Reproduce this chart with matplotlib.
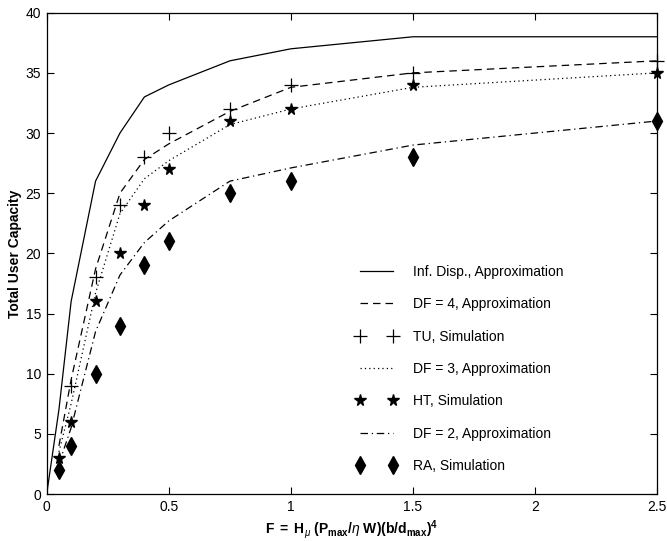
import matplotlib
matplotlib.use("Agg")
import matplotlib.pyplot as plt
import numpy as np

plt.rcParams["font.family"] = ["Liberation Sans", "DejaVu Sans"]
plt.rcParams["mathtext.fontset"] = "custom"
plt.rcParams["mathtext.rm"] = "Liberation Sans"
plt.rcParams["mathtext.it"] = "Liberation Sans:italic"
plt.rcParams["mathtext.bf"] = "Liberation Sans:bold"

# Load factor values
f_approx = [0.0, 0.05, 0.1, 0.2, 0.3, 0.4, 0.5, 0.75, 1.0, 1.5, 2.5]
f_sim = [0.05, 0.1, 0.2, 0.3, 0.4, 0.5, 0.75, 1.0, 1.5, 2.5]
f_tu = [0.1, 0.2, 0.3, 0.4, 0.5, 0.75, 1.0, 1.5, 2.5]

# Approximations
inf_disp = [0, 7, 16, 26, 30, 33, 34, 36, 37, 38, 38]
df4 = [np.nan, 4.0, 9.5, 18.7, 25.0, 27.8, 29.1, 31.8, 33.8, 35.0, 36.0]
df3 = [np.nan, 3.5, 7.5, 16.7, 23.3, 26.2, 27.7, 30.7, 32.0, 33.8, 35.0]
df2 = [np.nan, 2.5, 5.5, 13.5, 18.2, 20.9, 22.7, 26.0, 27.1, 29.0, 31.0]

# Simulations
tu_sim = [9, 18, 24, 28, 30, 32, 34, 35, 36]
ht_sim = [3, 6, 16, 20, 24, 27, 31, 32, 34, 35]
ra_sim = [2, 4, 10, 14, 19, 21, 25, 26, 28, 31]

x_ticks = [0, 0.5, 1, 1.5, 2, 2.5]
x_tick_labels = ["0", "0.5", "1", "1.5", "2", "2.5"]
y_ticks = [0, 5, 10, 15, 20, 25, 30, 35, 40]

W, H = 667, 541
fig = plt.figure(figsize=(W / 100, H / 100), dpi=100)
ax = fig.add_axes([46.7 / W, 1 - 494 / H, 610.6 / W, 481.3 / H])

lw = 0.9
fs = 10
ax.plot(f_approx, inf_disp, color="black", lw=lw, ls="-",
        label="Inf. Disp., Approximation")
ax.plot(f_approx, df4, color="black", lw=lw, ls=(0, (6, 4)),
        label="DF = 4, Approximation")
ax.plot(f_tu, tu_sim, ls="none", marker="+", ms=10, mew=0.9, color="black",
        clip_on=False, label="TU, Simulation")
ax.plot(f_approx, df3, color="black", lw=lw, ls=(0, (1, 2.5)),
        label="DF = 3, Approximation")
ax.plot(f_sim, ht_sim, ls="none", marker="*", ms=8.5, color="black",
        clip_on=False, label="HT, Simulation")
ax.plot(f_approx, df2, color="black", lw=lw, ls=(0, (6, 3, 1, 3)),
        label="DF = 2, Approximation")
ax.plot(f_sim, ra_sim, ls="none", marker="d", ms=9, color="black",
        clip_on=False, label="RA, Simulation")

ax.set_xlim(0, 2.5)
ax.set_ylim(0, 40)
ax.set_xticks(x_ticks)
ax.set_xticklabels(x_tick_labels)
ax.set_yticks(y_ticks)
ax.tick_params(direction="in", length=5, width=0.8, top=True, right=True,
               labelsize=fs, pad=4)
for s in ax.spines.values():
    s.set_linewidth(0.9)

ax.set_ylabel("Total User Capacity", fontsize=fs, fontweight="bold", labelpad=2.5)
ax.set_xlabel(r"$\mathbf{F\ =\ H}_{\mu}\ \mathbf{(P}_{\mathbf{max}}\mathbf{/}\eta\ \mathbf{W)(b/d}_{\mathbf{max}}\mathbf{)}^{\mathbf{4}}$",
              fontsize=fs, labelpad=3)

leg = ax.legend(loc="upper left", bbox_to_anchor=(349 / W, 1 - 258 / H),
                bbox_transform=fig.transFigure, frameon=False, fontsize=fs,
                handlelength=3.0, handletextpad=1.1, labelspacing=1.32,
                numpoints=2, borderpad=0)

fig.savefig("out.png", dpi=100)
